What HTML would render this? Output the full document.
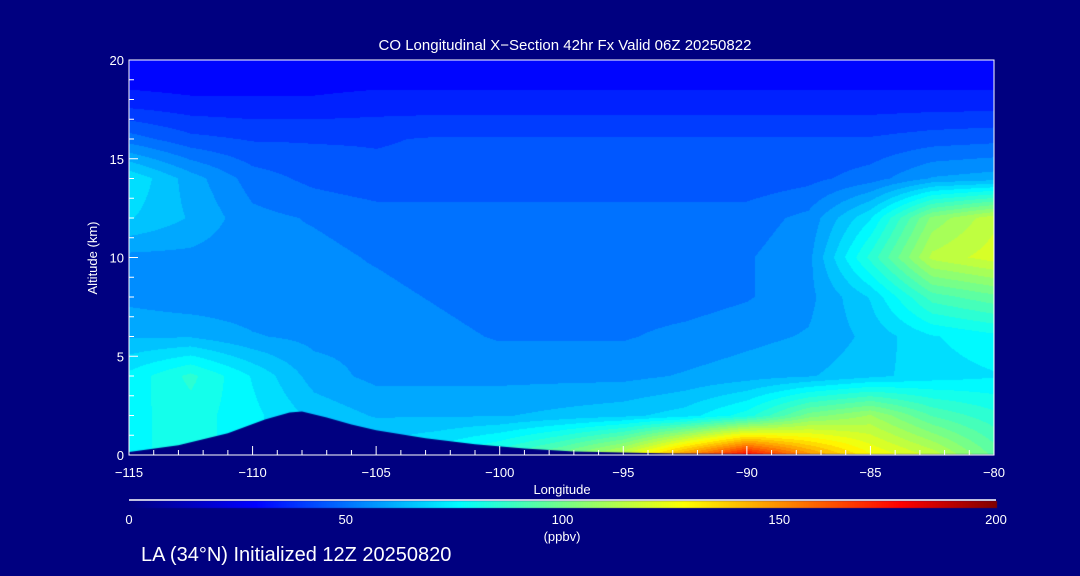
<!DOCTYPE html>
<html><head><meta charset="utf-8">
<style>
html,body{margin:0;padding:0;background:#000080;}
#wrap{position:relative;width:1080px;height:576px;background:#000080;overflow:hidden;font-family:"Liberation Sans",sans-serif;color:#fff;}
canvas{position:absolute;left:0;top:0;}
svg{position:absolute;left:0;top:0;}
</style></head>
<body>
<div id="wrap">
<canvas id="cv" width="1080" height="576"></canvas>
<svg id="sv" width="1080" height="576"></svg>
</div>
<script>
// ---- data ----
const lons = [-115,-112.5,-110,-107.5,-105,-102.5,-100,-97.5,-95,-92.5,-90,-87.5,-85,-82.5,-80];
const alts = [20,18,16,14,12,10,8,6,4,2,0];
const row20 = [28,28,28,28,28,28,28,28,28,28,28,28,28,28,28];
const row18 = [34,33,33,33,34,34,34,34,34,34,34,34,34,34,34];
const row16 = [50,44,42,42,42,43,43,43,43,43,43,43,43,45,46];
const row14 = [72,60,50,46,44,44,44,44,44,44,44,46,50,58,60];
const row12 = [68,62,54,52,50,50,50,50,50,50,50,54,72,104,116];
const row10 = [56,56,54,54,52,50,50,50,50,50,52,56,84,114,120];
const row8  = [56,54,54,54,54,52,50,50,50,50,52,56,68,90,96];
const row6  = [62,62,58,56,56,54,52,52,52,54,56,58,64,72,76];
const row4  = [74,84,72,60,56,56,56,56,56,58,60,62,66,70,72];
const row2  = [76,80,74,66,62,62,62,64,66,70,80,100,108,92,84];
const row0  = [76,80,74,68,70,76,86,100,118,150,178,150,128,116,96];
const grid = [row20,row18,row16,row14,row12,row10,row8,row6,row4,row2,row0];
const terrainLon = [-115,-115,-113,-111,-109.5,-108.5,-108,-107,-106,-105,-103,-101,-99,-97,-93,-90,-80,-80];
const terrainAlt = [0,0.15,0.5,1.1,1.8,2.15,2.2,1.9,1.55,1.25,0.85,0.55,0.33,0.18,0.08,0.05,0.02,0];
const xTicks = [-115,-110,-105,-100,-95,-90,-85,-80];
const yTicks = [0,5,10,15,20];
const cbTicks = [0,50,100,150,200];

// ---- axes ----
const X0=129,X1=994,Y0=455,Y1=60;
const xs = v => X0+(v+115)/35*(X1-X0);
const ys = v => Y0-(v/20)*(Y0-Y1);
function cmap(v){
  const st=[[0,0,0,128],[29,0,0,255],[76,0,255,255],[128,255,255,0],[178,255,0,0],[200,128,0,0]];
  v=Math.max(0,Math.min(200,v));
  for(let i=1;i<st.length;i++){ if(v<=st[i][0]){const a=st[i-1],b=st[i];const f=(v-a[0])/(b[0]-a[0]);
    return [a[1]+(b[1]-a[1])*f,a[2]+(b[2]-a[2])*f,a[3]+(b[3]-a[3])*f];}}
  return [128,0,0];
}
const cv=document.getElementById('cv'),ctx=cv.getContext('2d');
ctx.fillStyle='#000080';ctx.fillRect(0,0,1080,576);
const W=X1-X0,H=Y0-Y1,img=ctx.createImageData(W,H);
for(let py=0;py<H;py++){
  const alt=20-(py+0.5)/H*20; const fr=(20-alt)/2; const r0=Math.min(9,Math.floor(fr)); const ry=fr-r0;
  for(let px=0;px<W;px++){
    const lon=-115+(px+0.5)/W*35; const fc=(lon+115)/2.5; const c0=Math.min(13,Math.floor(fc)); const cx=fc-c0;
    let v=(grid[r0][c0]*(1-cx)+grid[r0][c0+1]*cx)*(1-ry)+(grid[r0+1][c0]*(1-cx)+grid[r0+1][c0+1]*cx)*ry;
    v=Math.round(v/5)*5;
    const c=cmap(v); const k=(py*W+px)*4; img.data[k]=c[0];img.data[k+1]=c[1];img.data[k+2]=c[2];img.data[k+3]=255;
  }
}
ctx.putImageData(img,X0,Y1);
ctx.fillStyle='#000080';ctx.beginPath();
terrainLon.forEach((l,i)=>{const x=xs(l),y=ys(terrainAlt[i]); i?ctx.lineTo(x,y):ctx.moveTo(x,y);});
ctx.closePath();ctx.fill();
for(let x=0;x<=867;x++){const c=cmap(x/867*200);ctx.fillStyle=`rgb(${c[0]|0},${c[1]|0},${c[2]|0})`;ctx.fillRect(129+x,501,1,7);}

const NS='http://www.w3.org/2000/svg',sv=document.getElementById('sv');
function mk(tag,at,txt){const e=document.createElementNS(NS,tag);for(const k in at)e.setAttribute(k,at[k]);if(txt!==undefined)e.textContent=txt;sv.appendChild(e);return e;}
let e;
e=mk('rect',{x:X0,y:Y1,width:X1-X0,height:Y0-Y1,fill:'none',stroke:'#fff','stroke-width':1});


e=mk('line',{x1:129,y1:500,x2:996,y2:500,stroke:'#fff','stroke-width':1.5});


for(let v=-115;v<=-80;v+=1){
  const major=v%5===0;
  e=mk('line',{x1:xs(v),y1:Y0,x2:xs(v),y2:Y0-(major?9:5),stroke:'#fff','stroke-width':1});
  
  
}
xTicks.forEach(v=>{
  e=mk('text',{x:xs(v),y:477,'font-size':13,fill:'#fff','text-anchor':'middle'},'\u2212'+Math.abs(v));
  
  
});
for(let v=0;v<=20;v+=1){
  const major=v%5===0;
  e=mk('line',{x1:X0,y1:ys(v),x2:X0+(major?9:5),y2:ys(v),stroke:'#fff','stroke-width':1});
  
  
}
yTicks.forEach(v=>{
  e=mk('text',{x:124,y:ys(v)+5,'font-size':13,fill:'#fff','text-anchor':'end'},String(v));
  
  
});
cbTicks.forEach(v=>{
  e=mk('text',{x:129+v/200*867,y:524,'font-size':13,fill:'#fff','text-anchor':'middle'},String(v));
  
  
});
e=mk('text',{x:562,y:541,'font-size':13,fill:'#fff','text-anchor':'middle'},'(ppbv)');


e=mk('text',{x:562,y:494,'font-size':13,fill:'#fff','text-anchor':'middle'},'Longitude');


e=mk('text',{x:0,y:0,'font-size':13,fill:'#fff','text-anchor':'middle',transform:'translate(97,258) rotate(-90)'},'Altitude (km)');


e=mk('text',{x:565,y:50,'font-size':15,fill:'#fff','text-anchor':'middle'},'CO Longitudinal X\u2212Section 42hr  Fx Valid 06Z 20250822');


e=mk('text',{x:141,y:561,'font-size':20,fill:'#fff'},'LA (34\u00b0N) Initialized 12Z 20250820');


</script>
</body></html>
